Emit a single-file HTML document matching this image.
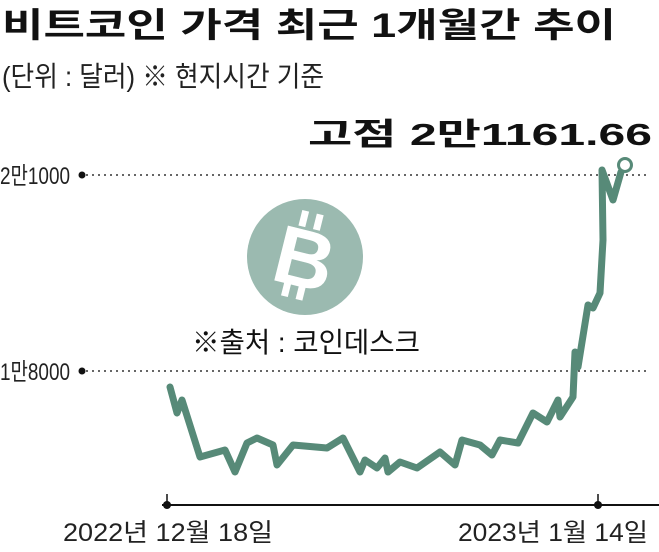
<!DOCTYPE html>
<html><head><meta charset="utf-8"><style>
body{margin:0;background:#fff;width:659px;height:552px;overflow:hidden;font-family:"Liberation Sans","Noto Sans CJK KR",sans-serif}
svg{position:absolute;left:0;top:0}
</style></head><body>
<svg width="659" height="552" viewBox="0 0 659 552">
<text x="2" y="37" font-size="34" font-weight="bold" fill="#111" textLength="614" lengthAdjust="spacingAndGlyphs">비트코인 가격 최근 1개월간 추이</text>
<text x="2" y="86" font-size="28" fill="#222" textLength="322" lengthAdjust="spacingAndGlyphs">(단위 : 달러)  ※ 현지시간 기준</text>
<text x="652" y="145" font-size="31" font-weight="bold" fill="#111" text-anchor="end" textLength="344" lengthAdjust="spacingAndGlyphs">고점 2만1161.66</text>
<text x="0" y="184" font-size="24" fill="#222" textLength="70" lengthAdjust="spacingAndGlyphs">2만1000</text>
<text x="0" y="380" font-size="24" fill="#222" textLength="70" lengthAdjust="spacingAndGlyphs">1만8000</text>
<circle cx="82" cy="175" r="3.5" fill="#111"/>
<circle cx="82" cy="371" r="3.5" fill="#111"/>
<line x1="86" y1="175" x2="648" y2="175" stroke="#333" stroke-width="1.6" stroke-dasharray="2 4"/>
<line x1="86" y1="371" x2="648" y2="371" stroke="#333" stroke-width="1.6" stroke-dasharray="2 4"/>
<circle cx="305" cy="257" r="58" fill="#9bbab0"/>
<g transform="rotate(14 305 257)" fill="#fff">
<text x="305" y="287" font-size="82" font-weight="bold" text-anchor="middle">B</text>
<rect x="291" y="212" width="7" height="16"/><rect x="306" y="212" width="7" height="16"/>
<rect x="291" y="284" width="7" height="16"/><rect x="306" y="284" width="7" height="16"/>
</g>
<text x="192" y="352" font-size="28" fill="#111" textLength="228" lengthAdjust="spacingAndGlyphs">※출처 : 코인데스크</text>
<polyline fill="none" stroke="#578a78" stroke-width="7" stroke-linejoin="round" stroke-linecap="round" points="170,387 177,413 182,400 200,457 225,450 235,472 247,443 257,438 273,445 277,465 293,445 327,448 343,438 360,472 365,460 377,468 385,458 388,472 400,462 417,468 440,452 455,465 462,440 480,445 492,455 500,440 518,443 533,413 547,422 558,400 560,417 573,397 575,352 578,367 588,305 593,308 600,293 603,240 602,170 613,200 621,172"/>
<circle cx="625" cy="165" r="6.5" fill="#fff" stroke="#578a78" stroke-width="3"/>
<line x1="162" y1="505" x2="659" y2="505" stroke="#111" stroke-width="2"/>
<line x1="167" y1="494" x2="167" y2="505" stroke="#111" stroke-width="1.5"/>
<line x1="598" y1="494" x2="598" y2="505" stroke="#111" stroke-width="1.5"/>
<circle cx="167" cy="505" r="4" fill="#111"/>
<circle cx="598" cy="505" r="4" fill="#111"/>
<text x="63" y="541" font-size="25" fill="#222" textLength="210" lengthAdjust="spacingAndGlyphs">2022년 12월 18일</text>
<text x="648" y="541" font-size="25" fill="#222" text-anchor="end" textLength="190" lengthAdjust="spacingAndGlyphs">2023년 1월 14일</text>
</svg>
</body></html>
